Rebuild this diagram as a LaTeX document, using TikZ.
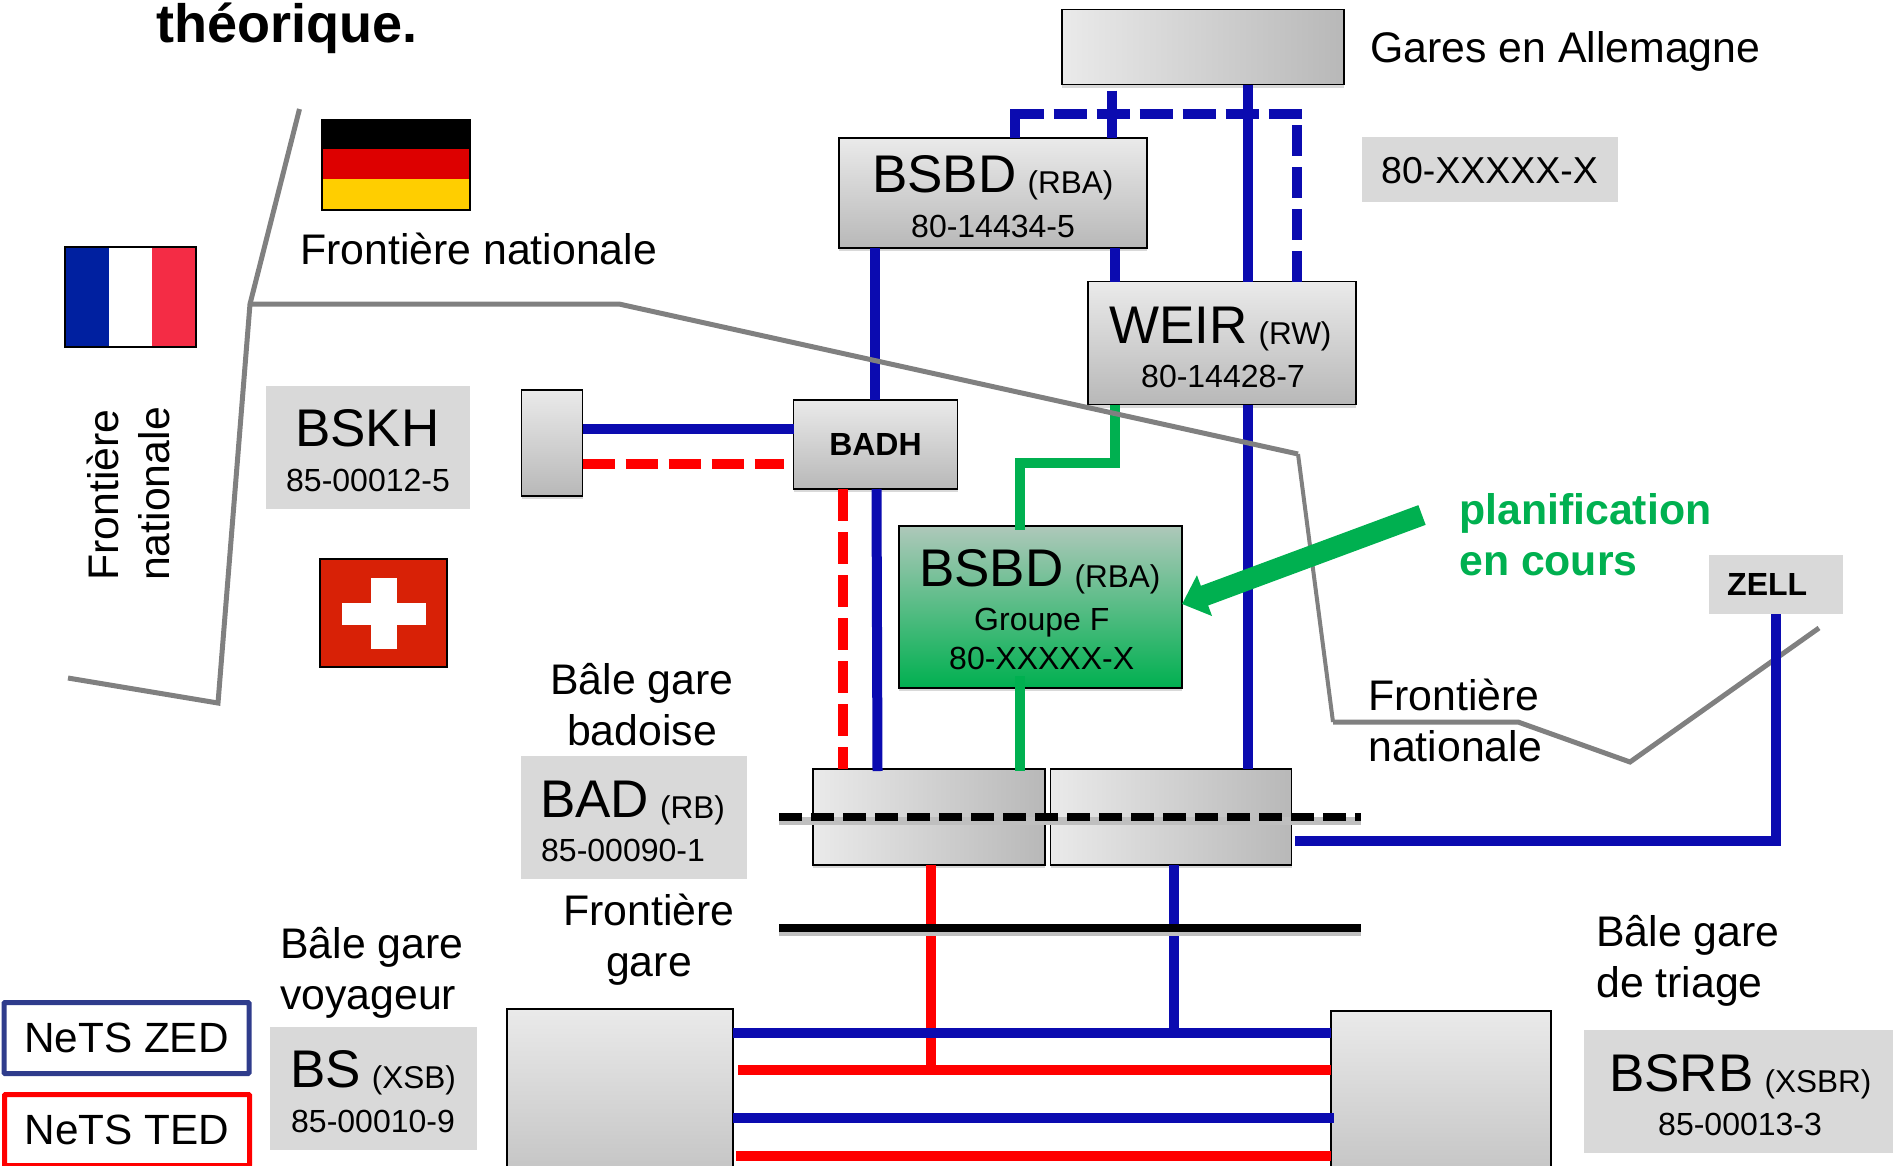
\documentclass[tikz,border=0pt]{standalone}
\usepackage{fontspec}
\setmainfont{Liberation Sans}
\usepackage{tikz}
\usepackage{xcolor}
\usetikzlibrary{arrows.meta,shadows}
\definecolor{netblue}{HTML}{0B0BB0}
\definecolor{zedblue}{HTML}{2F3C8C}
\definecolor{netred}{HTML}{FF0000}
\definecolor{netgreen}{HTML}{00B050}
\definecolor{plantop}{HTML}{AEC8BA}
\definecolor{boxlight}{HTML}{EAEAEA}
\definecolor{boxdark}{HTML}{B8B8B8}
\definecolor{labelgrey}{HTML}{D9D9D9}
\definecolor{flagred}{HTML}{DD0000}
\definecolor{flaggold}{HTML}{FFCE00}
\definecolor{frblue}{HTML}{0020A0}
\definecolor{frred}{HTML}{F42C45}
\definecolor{chred}{HTML}{D82106}
\newcommand\fpx[1]{\fontsize{#1}{50.5}\selectfont}
\newcommand\stncode[1]{\hspace{11pt}\raisebox{-1pt}{\fpx{31.5}#1}}
\tikzset{
	stnbox/.style={draw=black,line width=1.5pt,inner sep=0pt,outer sep=0pt,anchor=north west,top color=boxlight,bottom color=boxdark,drop shadow={shadow xshift=0pt,shadow yshift=-3pt,opacity=.3}},
	sidebox/.style={stnbox,top color=boxlight,bottom color=boxlight,left color=boxlight,right color=boxdark},
	labelbox/.style={fill=labelgrey,inner sep=0pt,anchor=north west},
	legbox/.style={line width=5pt,rounded corners=1pt,inner sep=0pt,minimum width=245pt,minimum height=71pt,font=\fpx{42.3}},
	txt/.style={inner sep=0pt,anchor=base west,font=\fpx{42.8}},
	stnname/.style={txt,font=\fpx{53}},
	stnnum/.style={txt,font=\fpx{32}},
	zedline/.style={draw=netblue,line width=10pt},
	tedline/.style={draw=netred,line width=10pt},
	planline/.style={draw=netgreen,line width=10pt},
	zeddash/.style={zedline,dash pattern=on 33pt off 10pt},
	zeddashv/.style={zedline,dash pattern=on 31pt off 11pt},
	teddash/.style={tedline,dash pattern=on 32pt off 11pt},
	border/.style={draw=black!50,line width=5pt,line join=miter},
	garestop/.style={draw=black,line width=8pt,preaction={draw=black!25,line width=8pt,transform canvas={yshift=-4pt}}}
}
\begin{document}
\begin{tikzpicture}[x=1pt,y=-1pt]
	\useasboundingbox (0,0) rectangle (1893,1165);
	\clip (0,0) rectangle (1893,1165);

	\node[txt,font=\fpx{54}\bfseries] (title) at (156,42.5) {théorique.};

	\fill[black] (322,120) rectangle (470,149);
	\fill[flagred] (322,149) rectangle (470,179);
	\fill[flaggold] (322,179) rectangle (470,210);
	\draw[black,line width=1.5pt] (322,120) rectangle (470,210);
	\fill[frblue] (65,247) rectangle (109,347);
	\fill[white] (109,247) rectangle (152,347);
	\fill[frred] (152,247) rectangle (196,347);
	\draw[black,line width=1.5pt] (65,247) rectangle (196,347);
	\fill[chred] (320,559) rectangle (447,667);
	\fill[white] (371,578) rectangle (397,649);
	\fill[white] (342,603) rectangle (426,625);
	\draw[black,line width=1.5pt] (320,559) rectangle (447,667);

	\node[txt] (bordernord) at (300,264) {Frontière nationale};
	\node[txt,rotate=90,align=left] (borderouest) at (169,581) {Frontière\\nationale};
	\node[txt,align=left] (borderest) at (1368,761) {Frontière\\nationale};
	\node[txt] (gareslabel) at (1370,62) {Gares en Allemagne};

	\node[labelbox,minimum width=204pt,minimum height=123pt] (bskhbox) at (266,386) {};
	\node[stnname] (bskh) at (295,446) {BSKH};
	\node[stnnum] (bskhnum) at (286,491) {85-00012-5};
	\node[labelbox,minimum width=256pt,minimum height=65pt] (allembox) at (1362,137) {};
	\node[txt,font=\fpx{37.5}] (allemnum) at (1381,183) {80-XXXXX-X};
	\node[labelbox,minimum width=134pt,minimum height=59pt] (zellbox) at (1709,555) {};
	\node[txt,font=\fpx{32}\bfseries] (zell) at (1727,595) {ZELL};
	\node[labelbox,minimum width=226pt,minimum height=123pt] (badbox) at (521,756) {};
	\node[stnname] (bad) at (540,817) {BAD\stncode{(RB)}};
	\node[stnnum] (badnum) at (541,861) {85-00090-1};
	\node[labelbox,minimum width=207pt,minimum height=123pt] (bsbox) at (270,1027) {};
	\node[stnname] (bs) at (290,1087) {BS\stncode{(XSB)}};
	\node[stnnum] (bsnum) at (291,1132) {85-00010-9};
	\node[labelbox,minimum width=309pt,minimum height=123pt] (bsrbbox) at (1584,1030) {};
	\node[stnname] (bsrb) at (1609,1091) {BSRB\stncode{(XSBR)}};
	\node[stnnum] (bsrbnum) at (1658,1135) {85-00013-3};

	\node[txt,anchor=base,align=center] (badlabel) at (642,745) {Bâle gare\\badoise};
	\node[txt,anchor=base,align=center] (frontgare) at (649,976) {Frontière\\gare};
	\node[txt,align=left] (bslabel) at (280,1009) {Bâle gare\\voyageur};
	\node[txt,align=left] (bsrblabel) at (1596,997) {Bâle gare\\de triage};

	\node[legbox,draw=zedblue] (zed) at (126.5,1038) {NeTS ZED};
	\node[legbox,draw=netred] (ted) at (127,1130) {NeTS TED};

	\node[sidebox,minimum width=282pt,minimum height=75pt] (gares) at (1062,9.5) {};
	\node[stnbox,minimum width=308pt,minimum height=110pt] (bsbd) at (839,138) {};
	\node[stnname] (bsbdname) at (872,192) {BSBD\stncode{(RBA)}};
	\node[stnnum] (bsbdnum) at (911,237) {80-14434-5};
	\node[stnbox,minimum width=268pt,minimum height=123pt] (weir) at (1088,281.5) {};
	\node[stnname] (weirname) at (1109,343) {WEIR\stncode{(RW)}};
	\node[stnnum] (weirnum) at (1141,387) {80-14428-7};
	\node[stnbox,minimum width=61pt,minimum height=106pt] (bskhst) at (521.5,390) {};
	\node[stnbox,minimum width=164pt,minimum height=89pt,font=\fpx{32}\bfseries] (badh) at (793.5,400) {BADH};
	\node[stnbox,minimum width=283pt,minimum height=162pt,top color=plantop,bottom color=netgreen] (bsbdf) at (899,526) {};
	\node[stnname] (bsbdfname) at (919,586) {BSBD\stncode{(RBA)}};
	\node[txt,font=\fpx{32}] (groupef) at (974,630) {Groupe F};
	\node[stnnum] (bsbdfnum) at (949,669) {80-XXXXX-X};
	\node[sidebox,minimum width=232pt,minimum height=96pt] (badw) at (813,769) {};
	\node[sidebox,minimum width=241pt,minimum height=96pt] (bade) at (1050.5,769) {};
	\node[stnbox,minimum width=226pt,minimum height=220pt] (bsgare) at (507,1009) {};
	\node[stnbox,minimum width=220pt,minimum height=220pt] (bsrbgare) at (1331,1011) {};

	\draw[zedline,shorten <=6pt] (1111.6,0 |- gares.south) -- (1111.6,0 |- bsbd.north);
	\draw[zedline] (1115,0 |- bsbd.south) -- (1115,0 |- weir.north);
	\draw[zedline] (1247.5,0 |- gares.south) -- (1247.5,0 |- weir.north);
	\draw[zedline] (1247.5,0 |- weir.south) -- (1247.5,0 |- bade.north);
	\draw[zedline] (1015,0 |- bsbd.north) -- (1015,109);
	\coordinate (dashw) at (1010.5,114);
	\coordinate (dashe) at (1302,114);
	\draw[zeddash] (dashw) -- (dashe);
	\draw[zeddashv] (1297,0 |- weir.north) -- (1297,114);
	\draw[zedline] (875,0 |- bsbd.south) -- (875,0 |- badh.north);
	\draw[zedline] (876.5,0 |- badh.south) -- (877.5,771);
	\draw[teddash] (842.5,0 |- badh.south) -- (842.5,0 |- badw.north);
	\draw[zedline] (bskhst.east |- 0,429) -- (badh.west |- 0,429);
	\draw[teddash] (bskhst.east |- 0,464) -- (784,464);

	\draw[planline] (1115,0 |- weir.south) -- (1115,463) -- (1020,463) -- (1020,530);
	\draw[planline] (1020,676) -- (1020,771);

	\draw[tedline] (931,0 |- badw.south) -- (931,1070);
	\draw[zedline] (1173.6,0 |- bade.south) -- (1173.6,1032);
	\draw[zedline] (bsgare.east |- 0,1032.5) -- (bsrbgare.west |- 0,1032.5);
	\draw[tedline] (738,1070) -- (bsrbgare.west |- 0,1070);
	\draw[zedline] (bsgare.east |- 0,1118) -- (1334,1118);
	\draw[tedline] (736,1156) -- (bsrbgare.west |- 0,1156);

	\draw[garestop,dash pattern=on 23pt off 9pt] (779,817) -- (1361,817);
	\draw[garestop] (779,927.5) -- (1361,927.5);

	\draw[border] (68,678) -- (218,703) -- (250,304) -- (299.5,109);
	\draw[border] (250,304) -- (619,304) -- (1298,454);
	\draw[border,line width=4pt] (1298,454) -- (1333,722);
	\draw[border] (1333,722) -- (1518,722) -- (1630,762) -- (1819,628);

	\draw[zedline] (1295,841) -- (1776,841) -- (1776,0 |- zellbox.south);

	\coordinate (planfrom) at (1422,515);
	\coordinate (planto) at (1182,604);
	\draw[draw=netgreen,line width=21pt,-{Triangle[length=24pt,width=42pt]}] (planfrom) -- (planto);
	\node[txt,font=\fpx{42.8}\bfseries,text=netgreen,align=left] (planlabel) at (1459,575) {planification\\en cours};
\end{tikzpicture}
\end{document}
